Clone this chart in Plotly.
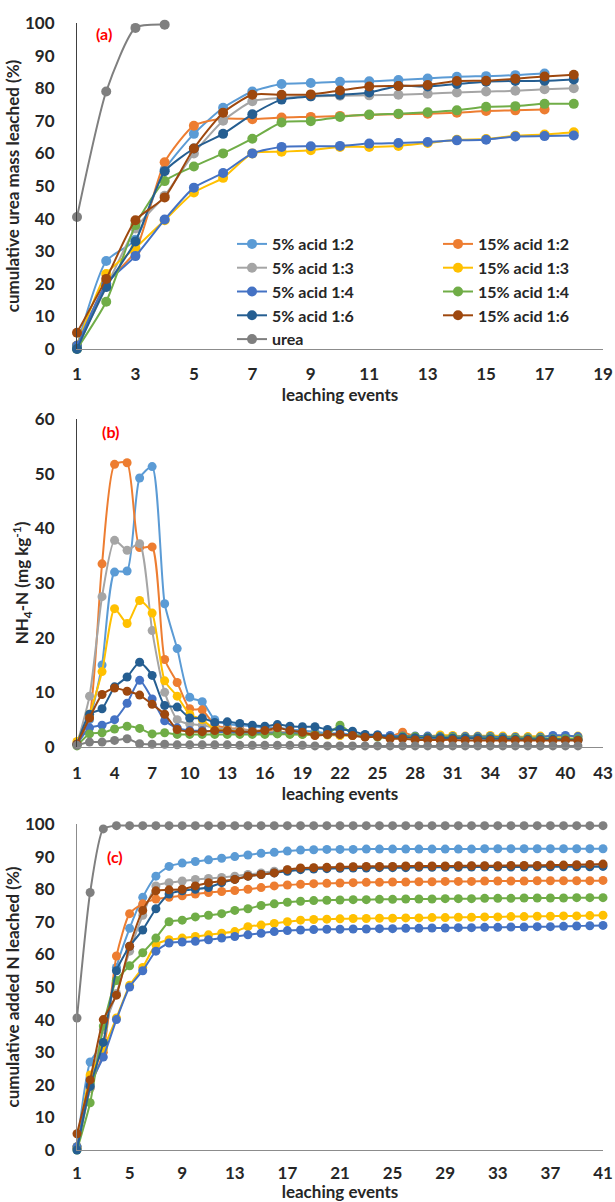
import plotly.graph_objects as go

# ---------------- data ----------------
names = ["5% acid 1:2", "15% acid 1:2", "5% acid 1:3", "15% acid 1:3",
         "5% acid 1:4", "15% acid 1:4", "5% acid 1:6", "15% acid 1:6", "urea"]
colors = ["#5B9BD5", "#ED7D31", "#A5A5A5", "#FFC000",
          "#4472C4", "#70AD47", "#255E91", "#9E480E", "#7F7F7F"]
legend_of = ["legend", "legend2", "legend", "legend2",
             "legend", "legend2", "legend", "legend2", "legend"]

# panel (a): cumulative urea mass leached (%)
a_5_12 = [1, 27, 33.5, 55, 66, 74, 79, 81.3, 81.6, 82, 82.1, 82.5, 83, 83.5, 83.7, 84, 84.5]
a_15_12 = [1, 20, 30, 57.3, 68.5, 70.7, 70.5, 71, 71.2, 71.5, 71.8, 72, 72.2, 72.5, 73, 73.2, 73.5]
a_5_13 = [0.5, 19, 37, 47, 60, 70, 76, 77, 77.5, 77.7, 77.8, 78, 78.3, 78.7, 79, 79.2, 79.7, 80]
a_15_13 = [1, 23, 31, 39.5, 48, 52.5, 60, 60.5, 61, 62, 62, 62.3, 63.2, 64.2, 64.4, 65.4, 65.8, 66.5]
a_5_14 = [1, 20, 28.5, 39.7, 49.5, 54, 60, 62, 62.2, 62.3, 63, 63.2, 63.5, 64, 64.2, 65.2, 65.3, 65.5]
a_15_14 = [0, 14.5, 38, 51.5, 56, 60, 64.5, 69.5, 69.9, 71.2, 71.9, 72.2, 72.6, 73.2, 74.3, 74.5, 75.2, 75.2]
a_5_16 = [0, 19, 33, 54.5, 61.5, 66, 72, 76.5, 77.5, 78, 78.7, 80.7, 80.5, 81.3, 82, 82.2, 82.3, 82.7]
a_15_16 = [5, 21.5, 39.5, 46.5, 61.5, 72.5, 78, 78, 78.1, 79.3, 80.5, 80.7, 81, 82.2, 82.3, 82.9, 83.6, 84.1]
a_urea = [40.5, 79, 98.5, 99.5]
a_series = [a_5_12, a_15_12, a_5_13, a_15_13, a_5_14, a_15_14, a_5_16, a_15_16, a_urea]

# panel (b): NH4-N (mg kg-1)
b_5_12 = [0.5, 5, 15, 32, 32.2, 49.2, 51.3, 26.2, 18, 9.1, 8.3, 5, 4.2, 4, 3.8, 3.5, 3.5, 3.2, 3, 2.8,
          2.5, 2.5, 2.3, 2.2, 2, 2, 1.9, 1.8, 1.8, 1.7, 1.7, 1.6, 1.6, 1.5, 1.5, 1.5, 1.4, 1.4, 1.4, 1.3, 1.3]
b_15_12 = [0.5, 5.5, 33.5, 51.7, 52, 36.5, 36.6, 16, 11.8, 7, 6.8, 4, 3.5, 3.3, 3, 3, 2.8, 2.6, 2.5, 2.4,
           2.3, 2.2, 2.1, 2, 2, 1.9, 2.7, 1.9, 1.8, 1.8, 1.7, 1.7, 1.7, 1.6, 1.6, 1.5, 1.5, 1.5, 1.4, 1.4, 1.4]
b_5_13 = [0.5, 9.3, 27.5, 37.8, 36, 37.2, 21.3, 10, 5, 4.2, 4, 3.5, 3.3, 3.1, 3, 2.8, 2.7, 2.6, 2.5, 2.4,
          2.3, 2.2, 2.1, 2, 2, 1.9, 1.9, 1.8, 1.8, 1.7, 1.7, 1.7, 1.6, 1.6, 1.6, 1.5, 1.5, 1.5, 1.4, 1.4, 1.4]
b_15_13 = [1, 6, 13.8, 25.3, 22.6, 26.8, 24.5, 12.1, 9.3, 6, 5, 3.2, 3, 2.8, 2.7, 2.6, 2.5, 2.4, 2.3, 2.2,
           2.2, 2.1, 2.1, 2, 2, 1.9, 1.9, 1.9, 1.9, 2.2, 2.1, 2, 2, 2.1, 2, 1.9, 1.9, 2, 1.9, 1.9, 2]
b_5_14 = [0.5, 3.5, 4, 5, 8, 12.2, 8.8, 4.8, 3.5, 3, 3, 2.8, 2.7, 2.6, 2.6, 2.5, 2.5, 2.5, 2.4, 2.3,
          2.3, 2.3, 2.2, 2.1, 2.2, 2.1, 2, 2, 2, 1.9, 1.9, 1.9, 1.9, 1.9, 1.8, 1.8, 1.7, 1.8, 2.1, 2.1, 1.9]
b_15_14 = [0.2, 2.4, 2.6, 3.3, 3.8, 3.4, 2.4, 2.6, 2.3, 2.3, 2.3, 2.3, 2.3, 2.3, 2.3, 2.3, 2.4, 2.3, 2.3, 2.3,
           2.3, 4, 2.3, 1.9, 1.8, 1.7, 1.9, 1.9, 1.8, 1.8, 1.8, 1.7, 1.7, 1.7, 1.6, 1.6, 1.6, 1.6, 1.5, 1.5, 1.5]
b_5_16 = [0.5, 6, 7, 11, 12.8, 15.5, 13.1, 7.6, 7.3, 5.3, 5.3, 4.5, 4.6, 4.3, 4, 3.8, 4.1, 3.8, 3.7, 3.7,
          3.2, 3.2, 2.9, 2.3, 2.2, 1.8, 1.8, 1.7, 1.7, 1.7, 1.6, 1.6, 1.6, 1.5, 1.5, 1.4, 1.4, 1.4, 1.4, 1.3, 1.3]
b_15_16 = [0.5, 5.3, 9.6, 10.8, 10.2, 9.5, 7.8, 6, 3.2, 2.8, 2.8, 3, 3, 2.8, 2.8, 3, 3.5, 3, 2.7, 2.1,
           2.3, 2.3, 2.1, 1.8, 1.9, 1.5, 1.5, 1.3, 1.3, 1.3, 1.3, 1.2, 1.2, 1.2, 1.2, 1.2, 1.2, 1.2, 1.2, 1.2, 1.2]
b_urea = [0.3, 0.9, 0.9, 1.2, 1.5, 0.6, 0.5, 0.5, 0.4, 0.4, 0.4, 0.4, 0.4, 0.3, 0.3, 0.3, 0.3, 0.3, 0.3, 0.2,
          0.2, 0.2, 0.2, 0.2, 0.2, 0.2, 0.2, 0.2, 0.2, 0.2, 0.2, 0.2, 0.2, 0.2, 0.2, 0.2, 0.2, 0.2, 0.2, 0.2, 0.2]
b_series = [b_5_12, b_15_12, b_5_13, b_15_13, b_5_14, b_15_14, b_5_16, b_15_16, b_urea]

# panel (c): cumulative added N leached (%)
c_5_12 = [1, 27, 33, 56, 68, 77.5, 84, 87, 88, 88.5, 89, 89.5, 90, 90.5, 91, 91.3, 91.7, 92,
          92.1, 92.2, 92.2, 92.2, 92.3, 92.3, 92.3, 92.3, 92.3, 92.3, 92.3, 92.3, 92.3, 92.4, 92.4,
          92.4, 92.4, 92.4, 92.4, 92.4, 92.4, 92.4, 92.4]
c_15_12 = [0.5, 19, 30, 59.5, 72.5, 75.5, 77, 77.5, 78, 78.5, 79, 79.3, 79.6, 80, 80.5, 81, 81.3, 81.5,
           81.7, 81.8, 81.9, 82, 82.1, 82.1, 82.2, 82.2, 82.3, 82.3, 82.4, 82.4, 82.4, 82.5, 82.5,
           82.5, 82.5, 82.6, 82.6, 82.6, 82.6, 82.6, 82.7]
c_5_13 = [0.5, 19, 37, 48, 61, 72, 81, 82, 82.5, 83, 83.3, 83.6, 84, 84.5, 85, 85.5, 86, 86.3,
          86.5, 86.6, 86.7, 86.8, 86.8, 86.9, 86.9, 87, 87, 87, 87, 87.1, 87.1, 87.1, 87.1,
          87.1, 87.2, 87.2, 87.2, 87.2, 87.2, 87.2, 87.3]
c_15_13 = [1, 23, 31, 40.5, 50.5, 56, 63, 64.5, 65, 65.5, 66, 66.5, 67, 68.5, 69, 69.5, 70, 70.5,
           70.7, 70.8, 70.9, 71, 71, 71.1, 71.1, 71.2, 71.2, 71.3, 71.3, 71.4, 71.4, 71.5, 71.5,
           71.6, 71.6, 71.7, 71.7, 71.8, 71.8, 71.9, 72]
c_5_14 = [1, 20, 28.5, 40, 50, 55, 61, 63.5, 63.8, 64, 64.5, 65, 65.5, 66, 66.5, 67, 67.3, 67.5,
          67.6, 67.7, 67.7, 67.8, 67.8, 67.9, 67.9, 68, 68, 68.1, 68.1, 68.2, 68.2, 68.3, 68.3,
          68.4, 68.4, 68.5, 68.5, 68.6, 68.7, 68.8, 68.9]
c_15_14 = [0, 14.5, 38, 52, 56.5, 60.5, 65, 70, 70.5, 71.5, 72, 72.5, 73.5, 74, 75, 75.5, 76, 76.3,
           76.5, 76.6, 76.7, 76.8, 76.8, 76.9, 76.9, 77, 77, 77, 77.1, 77.1, 77.1, 77.2, 77.2,
           77.2, 77.3, 77.3, 77.3, 77.3, 77.4, 77.4, 77.4]
c_5_16 = [0, 19.5, 33, 55, 62.5, 67.5, 74, 78.5, 79.5, 80, 80.5, 82, 83, 84, 84.5, 85, 85.5, 86,
          86.2, 86.3, 86.4, 86.5, 86.5, 86.6, 86.6, 86.6, 86.7, 86.7, 86.7, 86.7, 86.8, 86.8, 86.8,
          86.8, 86.8, 86.9, 86.9, 86.9, 86.9, 86.9, 87]
c_15_16 = [5, 21.5, 40, 47.5, 62.5, 73.5, 79.5, 79.8, 80, 81, 82, 82.5, 83, 84, 84.5, 85, 86, 86.5,
           86.6, 86.7, 86.8, 86.9, 87, 87, 87, 87.1, 87.1, 87.1, 87.1, 87.2, 87.2, 87.2, 87.2,
           87.3, 87.3, 87.3, 87.4, 87.4, 87.5, 87.6, 87.7]
c_urea = [40.5, 79, 98.5, 99.5, 99.5, 99.5, 99.5, 99.5, 99.5, 99.5, 99.5, 99.5, 99.5, 99.5, 99.5,
          99.5, 99.5, 99.5, 99.5, 99.5, 99.5, 99.5, 99.5, 99.5, 99.5, 99.5, 99.5, 99.5, 99.5, 99.5,
          99.5, 99.5, 99.5, 99.5, 99.5, 99.5, 99.5, 99.5, 99.5, 99.5, 99.5]
c_series = [c_5_12, c_15_12, c_5_13, c_15_13, c_5_14, c_15_14, c_5_16, c_15_16, c_urea]

a_ticks = [1, 3, 5, 7, 9, 11, 13, 15, 17, 19]
b_ticks = [1, 4, 7, 10, 13, 16, 19, 22, 25, 28, 31, 34, 37, 40, 43]
c_ticks = [1, 5, 9, 13, 17, 21, 25, 29, 33, 37, 41]

# ---------------- figure ----------------
FONT = "Lato"
TXT = "#262626"
fig = go.Figure()

panels = [(a_series, "x", "y", 10), (b_series, "x2", "y2", 9), (c_series, "x3", "y3", 9)]
for pi, (series, xa, ya, msize) in enumerate(panels):
    for name, col, vals, lg in zip(names, colors, series, legend_of):
        fig.add_trace(go.Scatter(
            x=list(range(1, len(vals) + 1)), y=vals, name=name,
            mode="lines+markers", xaxis=xa, yaxis=ya, legend=lg,
            line=dict(color=col, width=2, shape="spline", smoothing=0.6),
            marker=dict(color=col, size=msize),
            cliponaxis=False, showlegend=(pi == 0)))

H = 1202
top, bot = 23, 1150
ph = bot - top
def dom(y0, y1):
    return [(bot - y1) / ph, (bot - y0) / ph]

tickfont = dict(family=FONT, size=17, color=TXT, weight="bold")
titlefont = dict(family=FONT, size=17, color=TXT, weight="bold")

def xax(rng, ticks, anchor, lstand):
    return dict(range=rng, tickvals=ticks, showgrid=False, zeroline=False,
                showline=True, linecolor="#8C8C8C", linewidth=1.3, ticks="",
                tickfont=tickfont, ticklabelstandoff=lstand, anchor=anchor, automargin=False,
                title=dict(text="leaching events", font=titlefont, standoff=0))

def yax(rng, dtick, title, domain, anchor, lc):
    return dict(range=rng, dtick=dtick, showgrid=False, zeroline=False,
                showline=True, linecolor=lc, linewidth=1.2, ticks="",
                tickfont=tickfont, ticklabelstandoff=18, domain=domain, anchor=anchor,
                automargin=False,
                title=dict(text=title, font=titlefont, standoff=0))

legfont = dict(family=FONT, size=16, color=TXT, weight="bold")
leg_top = (bot - 227) / ph

fig.update_layout(
    width=615, height=H,
    margin=dict(l=77, r=12, t=top, b=H - bot),
    paper_bgcolor="white", plot_bgcolor="white",
    font=dict(family=FONT, color=TXT),
    xaxis=xax([1, 19], a_ticks, "y", 9),
    xaxis2=xax([1, 43], b_ticks, "y2", 10),
    xaxis3=xax([1, 41], c_ticks, "y3", 7),
    yaxis=yax([0, 100], 10, "cumulative urea mass leached (%)", dom(23, 349), "x", "#404040"),
    yaxis2=yax([0, 60], 10, "NH<sub>4</sub>-N (mg kg<sup>-1</sup>)", dom(419, 747), "x2", "#404040"),
    yaxis3=yax([0, 100], 10, "cumulative added N leached (%)", dom(824, 1150), "x3", "#8C8C8C"),
    legend=dict(orientation="v", x=(232 - 77) / 526, xanchor="left", y=leg_top, yanchor="top",
                font=legfont, bgcolor="rgba(0,0,0,0)", tracegroupgap=0, itemwidth=30),
    legend2=dict(orientation="v", x=(438 - 77) / 526, xanchor="left", y=leg_top, yanchor="top",
                 font=legfont, bgcolor="rgba(0,0,0,0)", tracegroupgap=0, itemwidth=30),
    showlegend=True,
)

for txt, xr, yr, ax in [("(a)", "x domain", "y domain", (104, 33, 23, 349)),
                        ("(b)", "x2 domain", "y2 domain", (110, 432, 419, 747)),
                        ("(c)", "x3 domain", "y3 domain", (115, 857, 824, 1150))]:
    px, py, y0, y1 = ax
    fig.add_annotation(text=txt, xref=xr, yref=yr,
                       x=(px - 77) / 526, y=(y1 - py) / (y1 - y0),
                       showarrow=False, xanchor="center", yanchor="middle",
                       font=dict(family=FONT, size=16, color="#FF0000", weight="bold"))

fig.write_html("out.html", config={"displayModeBar": False},
               post_script="document.body.style.margin='0';document.body.style.overflow='hidden';")
